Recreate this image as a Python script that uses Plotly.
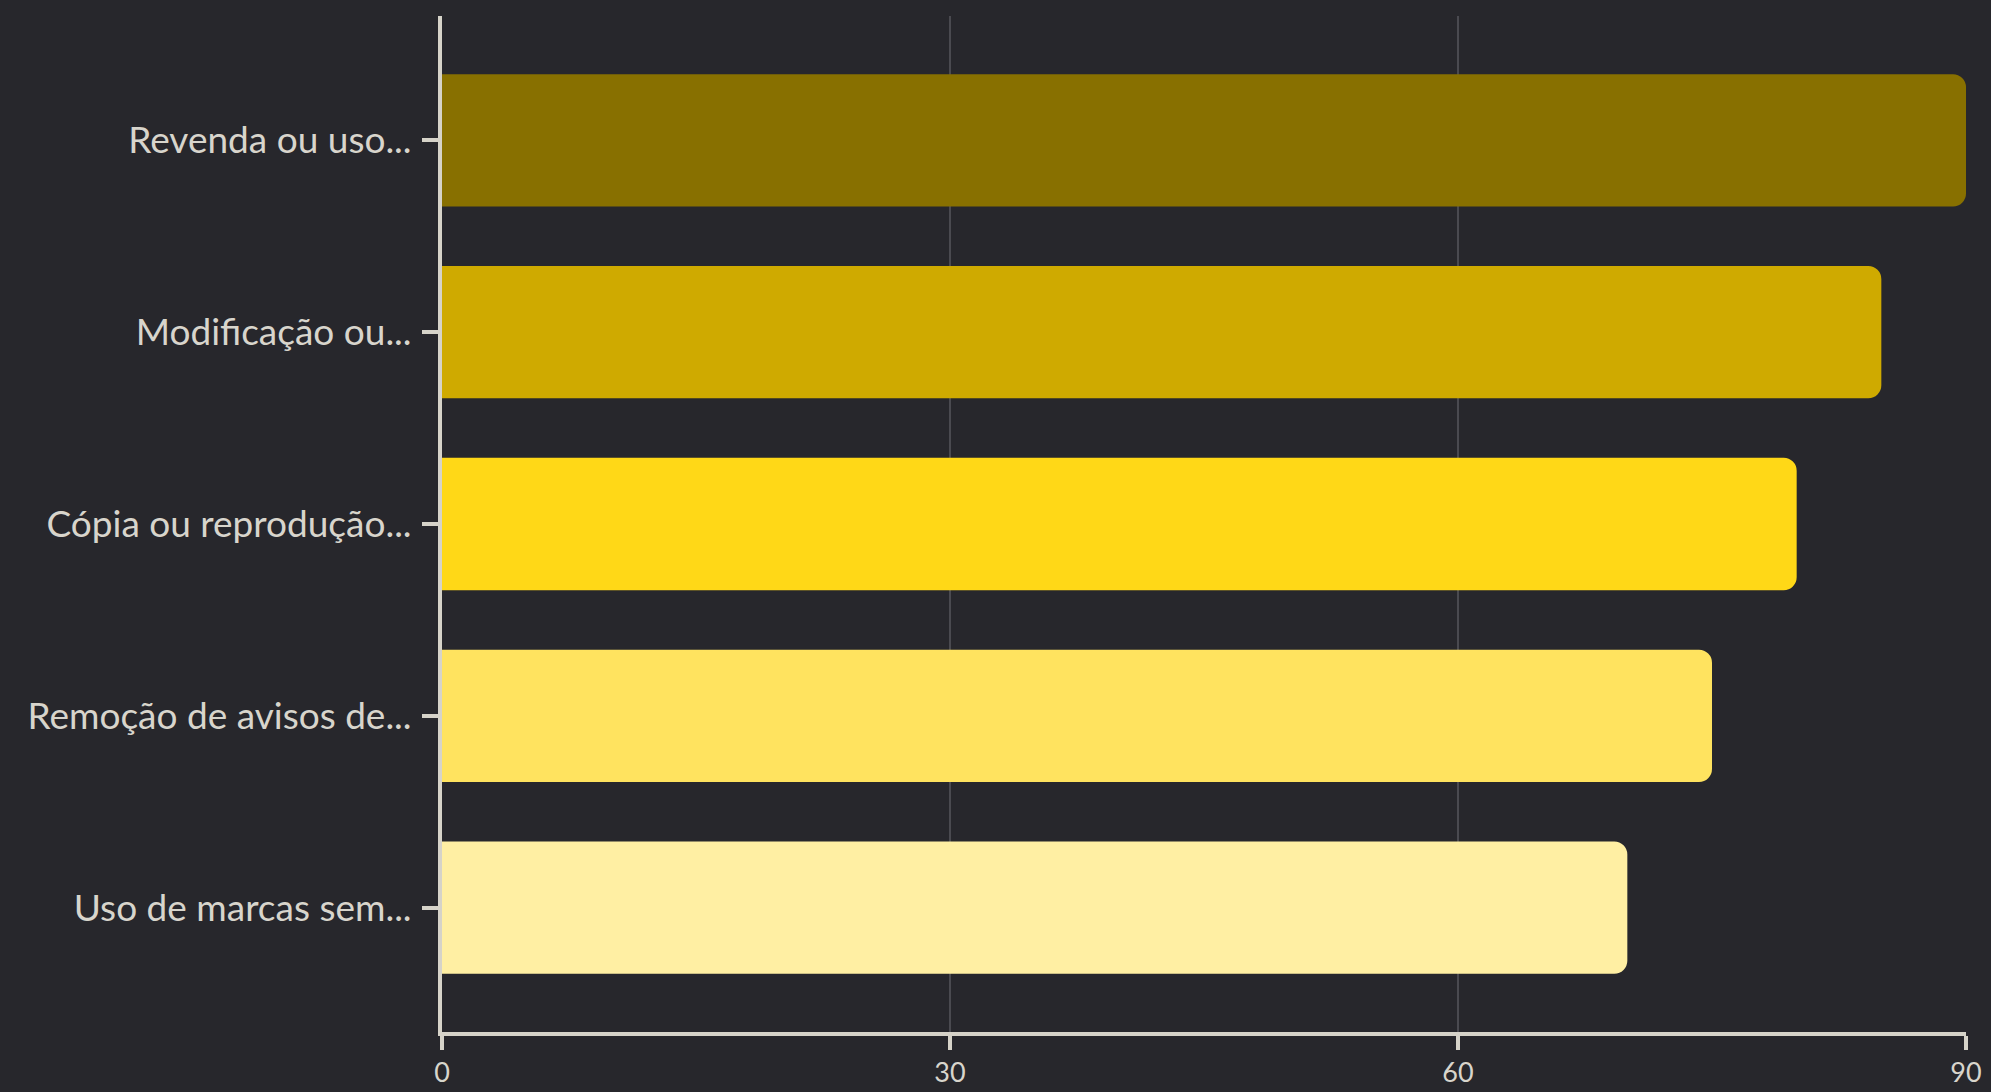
import plotly.graph_objects as go

categories = ["Revenda ou uso...", "Modificação ou...", "Cópia ou reprodução...",
              "Remoção de avisos de...", "Uso de marcas sem..."]
values = [90, 85, 80, 75, 70]
bar_colors = ["#887000", "#CFAA00", "#FFD817", "#FFE35F", "#FFEFA3"]
tick_values = [0, 30, 60, 90]
tick_labels = ["0", "30", "60", "90"]

BG = "#27272C"
AXIS = "#D6D3C9"
TEXT = "#D8D5CC"
GRID = "#4A4A50"

fig = go.Figure(go.Bar(
    x=values, y=categories, orientation="h",
    marker=dict(color=bar_colors, line=dict(width=0)),
    width=0.69,
    hoverinfo="skip",
))

fig.update_layout(
    width=1991, height=1092,
    paper_bgcolor=BG, plot_bgcolor=BG,
    margin=dict(l=442, r=25, t=16, b=60, autoexpand=False),
    barcornerradius=13,
    font=dict(family="Lato", size=37, color=TEXT),
    showlegend=False,
)
fig.update_xaxes(
    range=[0, 90], tickvals=tick_values, ticktext=tick_labels,
    showgrid=True, gridcolor=GRID, gridwidth=2,
    showline=True, linecolor=AXIS, linewidth=4,
    ticks="outside", ticklen=14, tickwidth=4, tickcolor=AXIS,
    zeroline=False, tickfont=dict(size=27, color=TEXT),
    ticklabelstandoff=0,
)
fig.update_yaxes(
    categoryorder="array", categoryarray=categories,
    autorange=False, range=[4.648, -0.648],
    showgrid=False,
    showline=True, linecolor=AXIS, linewidth=4,
    ticks="outside", ticklen=16, tickwidth=4, tickcolor=AXIS,
    tickfont=dict(size=37, color=TEXT),
    ticklabelstandoff=3,
)

fig.write_html(
    "out.html",
    config={"displayModeBar": False},
    post_script="document.body.style.margin='0';document.body.style.overflow='hidden';",
)
